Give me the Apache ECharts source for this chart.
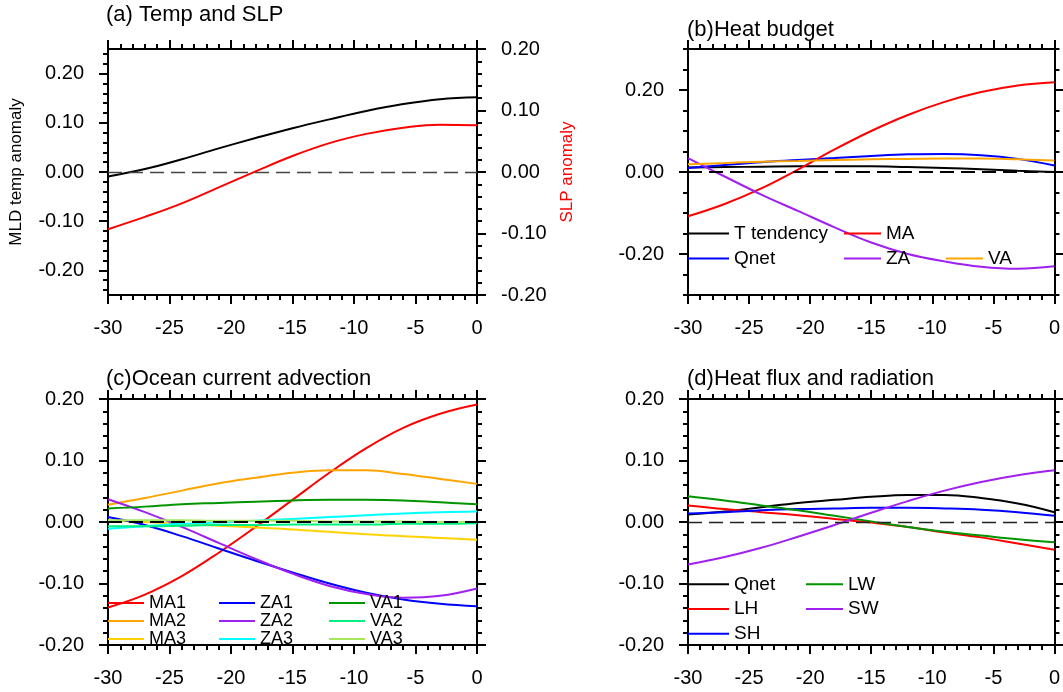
<!DOCTYPE html>
<html>
<head>
<meta charset="utf-8">
<title>Temp, SLP and heat budget</title>
<script src="https://cdn.jsdelivr.net/npm/echarts@6/dist/echarts.min.js"></script>
<style>
  html, body { margin: 0; padding: 0; background: #fff; }
  #chart { width: 1063px; height: 692px; }
</style>
</head>
<body>
<div id="chart"></div>
<script>
// lag days (x axis)
const days = [-30, -27, -24, -21, -18, -15, -12, -9, -6, -3, 0];

// (a) Temp and SLP
const mldTemp = [-0.009, 0.006, 0.026, 0.048, 0.069, 0.089, 0.107, 0.124, 0.138, 0.148, 0.152];
const slp     = [-0.093, -0.073, -0.051, -0.025, 0.001, 0.026, 0.047, 0.062, 0.072, 0.077, 0.076];

// (b) Heat budget
const tTend = [0.011, 0.012, 0.013, 0.014, 0.014, 0.014, 0.012, 0.010, 0.007, 0.003, 0.000];
const qnetB = [0.010, 0.017, 0.024, 0.029, 0.034, 0.039, 0.043, 0.044, 0.041, 0.032, 0.016];
const maB   = [-0.108, -0.078, -0.040, 0.006, 0.055, 0.100, 0.139, 0.171, 0.195, 0.211, 0.219];
const zaB   = [0.034, -0.011, -0.055, -0.095, -0.135, -0.172, -0.200, -0.218, -0.231, -0.236, -0.230];
const vaB   = [0.019, 0.022, 0.025, 0.027, 0.029, 0.031, 0.032, 0.033, 0.033, 0.031, 0.028];

// (c) Ocean current advection
const ma1 = [-0.139, -0.118, -0.088, -0.050, -0.008, 0.036, 0.080, 0.120, 0.153, 0.176, 0.191];
const ma2 = [0.028, 0.039, 0.051, 0.063, 0.072, 0.080, 0.084, 0.084, 0.078, 0.070, 0.062];
const ma3 = [0.002, 0.000, -0.003, -0.006, -0.009, -0.012, -0.016, -0.020, -0.023, -0.026, -0.029];
const za1 = [0.008, -0.005, -0.023, -0.043, -0.063, -0.082, -0.100, -0.115, -0.126, -0.133, -0.137];
const za2 = [0.037, 0.016, -0.008, -0.034, -0.060, -0.084, -0.104, -0.117, -0.123, -0.120, -0.108];
const za3 = [-0.011, -0.007, -0.003, -0.001, 0.002, 0.005, 0.008, 0.011, 0.014, 0.016, 0.017];
const va1 = [0.022, 0.025, 0.029, 0.031, 0.033, 0.035, 0.036, 0.036, 0.035, 0.032, 0.029];
const va2 = [-0.007, -0.007, -0.006, -0.005, -0.005, -0.004, -0.004, -0.004, -0.003, -0.003, -0.002];
const va3 = [0.003, 0.003, 0.003, 0.002, 0.002, 0.002, 0.001, 0.001, 0.001, 0.000, 0.000];

// (d) Heat flux and radiation
const qnetD = [0.012, 0.017, 0.024, 0.031, 0.036, 0.041, 0.044, 0.044, 0.039, 0.030, 0.016];
const lh    = [0.027, 0.021, 0.016, 0.011, 0.005, -0.001, -0.008, -0.017, -0.025, -0.035, -0.045];
const sh    = [0.014, 0.016, 0.019, 0.021, 0.022, 0.023, 0.023, 0.022, 0.020, 0.016, 0.010];
const lw    = [0.042, 0.035, 0.027, 0.019, 0.010, 0.001, -0.008, -0.016, -0.022, -0.028, -0.033];
const sw    = [-0.069, -0.057, -0.042, -0.024, -0.005, 0.015, 0.034, 0.051, 0.065, 0.076, 0.084];

// tick labels
const labelsA = [-0.2, -0.1, 0, 0.1, 0.2];
const labelsB = [-0.2, 0, 0.2];
const labelsCD = [-0.2, -0.1, 0, 0.1, 0.2];

const FONT = '"Liberation Sans", Arial, Helvetica, sans-serif';
const PURPLE = '#A020F0';
const GREEN = '#009400';

const grids = [
  { left: 108, top: 49, width: 369, height: 246 },
  { left: 688, top: 49, width: 368, height: 246 },
  { left: 108, top: 399, width: 369, height: 246 },
  { left: 688, top: 399, width: 368, height: 246 }
];

function steps(min, max, step) {
  const out = [];
  for (let k = Math.ceil(min / step - 1e-9); k * step <= max + 1e-9; k++) {
    out.push(+(k * step).toFixed(4));
  }
  return out;
}

const xAxes = [];
const yAxes = [];

function addX(gi) {
  const base = {
    gridIndex: gi, type: 'value', min: -30, max: 0, interval: 5,
    axisLine: { show: true, onZero: false, lineStyle: { color: '#000', width: 2 } },
    axisTick: { show: true, length: 9, lineStyle: { color: '#000', width: 2 } },
    minorTick: { show: true, splitNumber: 5, length: 5, lineStyle: { color: '#000', width: 2 } },
    splitLine: { show: false },
    minorSplitLine: { show: false },
    axisLabel: { fontSize: 20, color: '#000', margin: 23, fontFamily: FONT }
  };
  xAxes.push(Object.assign({}, base, { position: 'bottom' }));
  xAxes.push(Object.assign({}, base, { position: 'top', axisLabel: { show: false } }));
  return xAxes.length - 2;
}

function addY(gi, pos, min, max, labels, minorStep, showLabels) {
  yAxes.push({
    gridIndex: gi, type: 'value', position: pos, min: min, max: max,
    axisLine: { show: true, onZero: false, lineStyle: { color: '#000', width: 2 } },
    axisTick: { show: true, length: 9, lineStyle: { color: '#000', width: 2 }, customValues: labels },
    axisLabel: {
      show: showLabels, customValues: labels, formatter: v => v.toFixed(2),
      fontSize: 20, color: '#000', margin: 24, fontFamily: FONT
    },
    splitLine: { show: false }
  });
  const idx = yAxes.length - 1;
  yAxes.push({
    gridIndex: gi, type: 'value', position: pos, min: min, max: max,
    axisLine: { show: false, onZero: false },
    axisLabel: { show: false },
    splitLine: { show: false },
    axisTick: { show: true, length: 5, lineStyle: { color: '#000', width: 2 }, customValues: steps(min, max, minorStep) }
  });
  return idx;
}

// axes for each panel
const xa = addX(0), ya = addY(0, 'left', -0.25, 0.25, labelsA, 0.02, true);
const yaR = addY(0, 'right', -0.2, 0.2, labelsA, 0.02, true);
const xb = addX(1), yb = addY(1, 'left', -0.3, 0.3, labelsB, 0.05, true);
addY(1, 'right', -0.3, 0.3, labelsB, 0.05, false);
const xc = addX(2), yc = addY(2, 'left', -0.2, 0.2, labelsCD, 0.02, true);
addY(2, 'right', -0.2, 0.2, labelsCD, 0.02, false);
const xd = addX(3), yd = addY(3, 'left', -0.2, 0.2, labelsCD, 0.02, true);
addY(3, 'right', -0.2, 0.2, labelsCD, 0.02, false);

function zeroLine(color, width) {
  return {
    silent: true, symbol: 'none', label: { show: false },
    lineStyle: { type: [14, 7], color: color, width: width },
    data: [{ yAxis: 0 }]
  };
}

function line(name, values, color, xi, yi, extra) {
  return Object.assign({
    type: 'line', name: name, xAxisIndex: xi, yAxisIndex: yi,
    data: days.map((d, i) => [d, values[i]]),
    symbol: 'none', showSymbol: false, smooth: 0.4,
    color: color,
    lineStyle: { color: color, width: 2 },
    itemStyle: { color: color, borderWidth: 0 }
  }, extra || {});
}

function legend(names, left, top, itemWidth, pitch, fontSize) {
  return {
    data: names, left: left, top: top, orient: 'vertical', itemGap: 0,
    itemWidth: itemWidth, itemHeight: 2, icon: 'rect', padding: 0, selectedMode: false,
    itemStyle: { borderWidth: 0 },
    formatter: n => n.split(':')[1],
    textStyle: { fontSize: fontSize, lineHeight: pitch, color: '#000', fontFamily: FONT }
  };
}

const series = [
  line('a:MLD temp', mldTemp, '#000', xa, ya, { markLine: zeroLine('#444', 1.3) }),
  line('a:SLP', slp, '#FF0000', xa, yaR),

  line('b:T tendency', tTend, '#000', xb, yb, { markLine: zeroLine('#000', 2) }),
  line('b:Qnet', qnetB, '#0000FF', xb, yb),
  line('b:MA', maB, '#FF0000', xb, yb),
  line('b:ZA', zaB, PURPLE, xb, yb),
  line('b:VA', vaB, '#FFA500', xb, yb),

  line('c:MA1', ma1, '#FF0000', xc, yc, { markLine: zeroLine('#000', 2) }),
  line('c:MA2', ma2, '#FFA500', xc, yc),
  line('c:MA3', ma3, '#FFD200', xc, yc),
  line('c:ZA1', za1, '#0000FF', xc, yc),
  line('c:ZA2', za2, PURPLE, xc, yc),
  line('c:ZA3', za3, '#00FFFF', xc, yc),
  line('c:VA1', va1, GREEN, xc, yc),
  line('c:VA2', va2, '#00F080', xc, yc),
  line('c:VA3', va3, '#A6E85C', xc, yc),

  line('d:Qnet', qnetD, '#000', xd, yd, { markLine: zeroLine('#222', 1.3) }),
  line('d:LH', lh, '#FF0000', xd, yd),
  line('d:SH', sh, '#0000FF', xd, yd),
  line('d:LW', lw, GREEN, xd, yd),
  line('d:SW', sw, PURPLE, xd, yd)
];

const titleStyle = { fontSize: 22, fontWeight: 'normal', color: '#000', fontFamily: FONT };

const option = {
  animation: false,
  backgroundColor: '#fff',
  title: [
    { text: '(a) Temp and SLP', left: 106, top: 4, padding: 0, textStyle: titleStyle },
    { text: '(b)Heat budget', left: 687, top: 19, padding: 0, textStyle: titleStyle },
    { text: '(c)Ocean current advection', left: 106, top: 368, padding: 0, textStyle: titleStyle },
    { text: '(d)Heat flux and radiation', left: 687, top: 368, padding: 0, textStyle: titleStyle }
  ],
  grid: grids,
  xAxis: xAxes,
  yAxis: yAxes,
  legend: [
    legend(['b:T tendency', 'b:Qnet'], 688, 221, 41, 25, 19),
    legend(['b:MA', 'b:ZA'], 844, 221, 37, 25, 19),
    legend(['b:VA'], 946, 246, 37, 25, 19),
    legend(['c:MA1', 'c:MA2', 'c:MA3'], 108, 594, 36, 18, 18),
    legend(['c:ZA1', 'c:ZA2', 'c:ZA3'], 219, 594, 36, 18, 18),
    legend(['c:VA1', 'c:VA2', 'c:VA3'], 329, 594, 36, 18, 18),
    legend(['d:Qnet', 'd:LH', 'd:SH'], 688, 572, 41, 24.7, 19),
    legend(['d:LW', 'd:SW'], 806, 572, 37, 24.7, 19)
  ],
  graphic: [
    { type: 'text', x: 16, y: 172, rotation: Math.PI / 2,
      style: { text: 'MLD temp anomaly', fill: '#000', font: '17px ' + FONT, align: 'center', verticalAlign: 'middle' } },
    { type: 'text', x: 567, y: 172, rotation: Math.PI / 2,
      style: { text: 'SLP anomaly', fill: '#FF0000', font: '17px ' + FONT, align: 'center', verticalAlign: 'middle' } }
  ],
  series: series
};

const chart = echarts.init(document.getElementById('chart'), null, { renderer: 'canvas' });
chart.setOption(option);
window.addEventListener('resize', () => chart.resize());
</script>
</body>
</html>
